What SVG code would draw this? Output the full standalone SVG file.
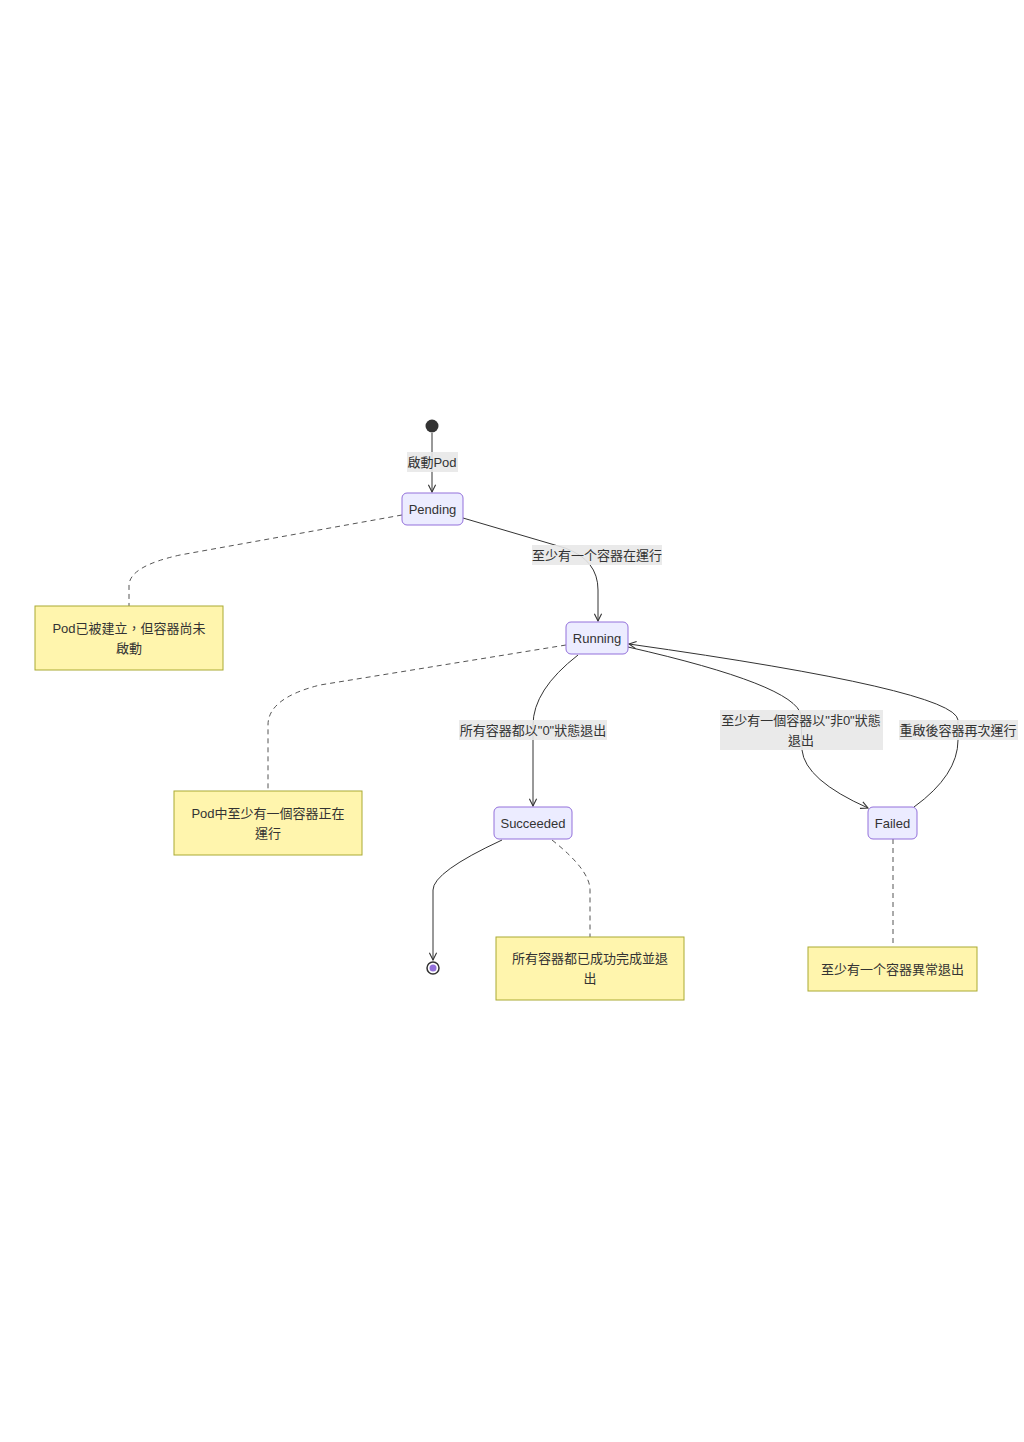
<svg xmlns="http://www.w3.org/2000/svg" width="1024" height="1442" viewBox="0 0 1024 1442">
<style>
text{font-family:"Liberation Sans","Noto Sans CJK TC",sans-serif;font-size:13px;fill:#333;text-anchor:middle;dominant-baseline:central}
.state{fill:#ECECFF;stroke:#9370DB;stroke-width:1}
.note{fill:#FFF5AD;stroke:#AAAA33;stroke-width:1}
.edge{fill:none;stroke:#333;stroke-width:1}
.dash{fill:none;stroke:#555;stroke-width:1;stroke-dasharray:5 4}
.lbl{fill:#e8e8e8;opacity:0.9}
</style>
<defs>
<marker id="arr" viewBox="0 0 10 10" refX="9" refY="5" markerWidth="9" markerHeight="9" orient="auto" markerUnits="userSpaceOnUse">
<path d="M1,1 L9,5 L1,9" fill="none" stroke="#333" stroke-width="1.2"/>
</marker>
</defs>
<rect width="1024" height="1442" fill="#fff"/>
<g id="connectors">
<path class="edge" d="M432,433 L432,492" marker-end="url(#arr)"/>
<path class="edge" d="M463,518 L565,548 Q598,560 598,590 L598,621" marker-end="url(#arr)"/>
<path class="edge" d="M578,655 Q533,690 533,725 L533,806" marker-end="url(#arr)"/>
<path class="edge" d="M628,647 Q795,685 801,715 L802,750 Q805,780 868,808" marker-end="url(#arr)"/>
<path class="edge" d="M914,807 Q958,775 958,740 L958,720 Q955,690 629,644" marker-end="url(#arr)"/>
<path class="edge" d="M502,840 Q433,872 433,890 L433,960" marker-end="url(#arr)"/>
<path class="dash" d="M402,515 L180,555 Q130,566 129,585 L129,606"/>
<path class="dash" d="M566,645 L320,685 Q268,698 268,725 L268,791"/>
<path class="dash" d="M552,840 Q590,870 590,890 L590,937"/>
<path class="dash" d="M893,839 L893,947"/>
<rect class="lbl" x="407" y="452" width="51" height="20"/>
<text x="432" y="462">啟動Pod</text>
<rect class="lbl" x="532" y="545" width="130" height="20"/>
<text x="597" y="555">至少有一个容器在運行</text>
<rect class="lbl" x="459" y="720" width="148" height="20"/>
<text x="533" y="730">所有容器都以"0"狀態退出</text>
<rect class="lbl" x="720" y="710" width="163" height="40"/>
<text x="801" y="720">至少有一個容器以"非0"狀態</text>
<text x="801" y="740">退出</text>
<rect class="lbl" x="899" y="720" width="119" height="20"/>
<text x="958" y="730">重啟後容器再次運行</text>
</g>
<g id="start">
<circle cx="432" cy="426" r="6.5" fill="#333"/>
</g>
<g id="Pending">
<rect class="state" x="402" y="493" width="61" height="32" rx="5"/>
<text x="432.5" y="509">Pending</text>
</g>
<g id="Running">
<rect class="state" x="566" y="622" width="62" height="32" rx="5"/>
<text x="597" y="638">Running</text>
</g>
<g id="Succeeded">
<rect class="state" x="494" y="807" width="78" height="32" rx="5"/>
<text x="533" y="823">Succeeded</text>
</g>
<g id="Failed">
<rect class="state" x="868" y="807" width="49" height="32" rx="5"/>
<text x="892.5" y="823">Failed</text>
</g>
<g id="end">
<circle cx="433" cy="968" r="6" fill="#fff" stroke="#333" stroke-width="1.5"/>
<circle cx="433" cy="968" r="3.5" fill="#9370DB"/>
</g>
<g id="note1">
<rect class="note" x="35" y="606" width="188" height="64"/>
<text x="129" y="628">Pod已被建立，但容器尚未</text>
<text x="129" y="648">啟動</text>
</g>
<g id="note2">
<rect class="note" x="174" y="791" width="188" height="64"/>
<text x="268" y="813">Pod中至少有一個容器正在</text>
<text x="268" y="833">運行</text>
</g>
<g id="note3">
<rect class="note" x="496" y="937" width="188" height="63"/>
<text x="590" y="958">所有容器都已成功完成並退</text>
<text x="590" y="978">出</text>
</g>
<g id="note4">
<rect class="note" x="808" y="947" width="169" height="44"/>
<text x="892.5" y="969">至少有一个容器異常退出</text>
</g>
</svg>
